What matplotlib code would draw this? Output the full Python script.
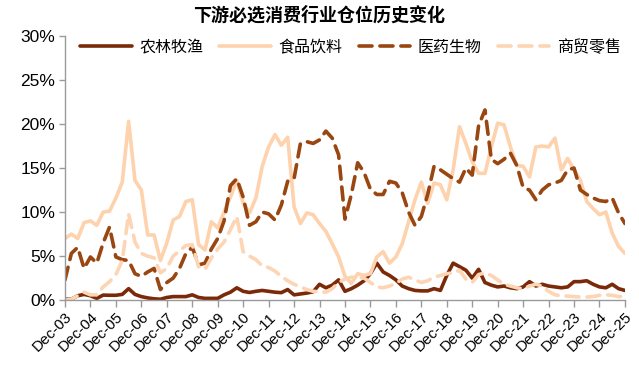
import matplotlib
matplotlib.use("Agg")
import matplotlib.pyplot as plt

plt.rcParams['font.family'] = ['Liberation Sans', 'Noto Sans CJK SC']

# quarterly positions, Dec-03 .. Dec-25 (values in %)
year_labels = ["Dec-%02d" % y for y in range(3, 26)]

agri = [0.1, 0.1, 0.5, 0.65, 0.5, 0.2, 0.57, 0.55, 0.55, 0.65, 1.3, 0.65, 0.4, 0.25, 0.15, 0.1,
        0.3, 0.4, 0.4, 0.4, 0.6, 0.3, 0.2, 0.2, 0.2, 0.6, 0.9, 1.4, 1.0, 0.87,
        1.0, 1.1, 1.0, 0.9, 0.85, 1.2, 0.6, 0.7, 0.8, 0.95, 1.8, 1.4, 1.7, 2.3, 1.0, 1.3, 1.7, 2.2, 3.0, 4.2,
        3.2, 2.8, 2.3, 1.6, 1.3, 1.1, 1.05, 1.05, 1.3, 1.1, 2.8, 4.2, 3.8, 3.4, 2.5, 3.5,
        2.0, 1.7, 1.5, 1.6, 1.4, 1.3, 1.5, 2.1, 1.6, 1.8, 1.6, 1.5, 1.4, 1.5, 2.1, 2.1, 2.2, 1.8, 1.5, 1.4,
        1.8, 1.3, 1.1]

food = [7.0, 7.5, 7.0, 8.8, 9.0, 8.5, 10.0, 10.1, 11.6, 13.4, 20.3, 13.6, 12.5, 7.4, 7.4, 4.5,
        6.5, 9.1, 9.5, 11.2, 11.4, 6.3, 5.7, 8.9, 8.2, 10.0, 11.7, 13.6, 11.0, 9.9, 11.6, 15.2, 17.4, 18.8,
        17.6, 18.5,
        10.6, 8.7, 9.9, 9.7, 8.7, 7.8, 6.4, 4.9, 2.7, 1.9, 3.0, 2.8, 3.0, 4.9,
        5.5, 4.2, 4.9, 6.4, 8.9, 11.4, 13.4, 11.0, 13.3, 13.1, 11.4, 14.8, 19.7, 17.8, 15.7, 14.4,
        14.4, 17.4, 20.1, 19.9, 17.4, 15.3, 15.2, 14.0, 17.4, 17.5, 17.4, 18.4, 14.8, 16.1, 14.8, 13.6,
        11.2, 10.4, 9.7, 10.0, 7.6, 6.1, 5.3]

med = [2.3, 5.3, 6.0, 3.6, 4.9, 4.2, 6.5, 8.3, 4.9, 4.6, 4.5, 3.0, 2.7, 3.2, 3.6, 1.2,
       2.0, 2.5, 3.6, 5.3, 6.0, 4.0, 4.2, 5.8, 7.0, 9.0, 13.0, 13.8, 11.7, 8.5, 8.9, 10.0, 9.8, 9.1,
       10.8, 13.5,
       13.8, 17.8, 18.0, 17.8, 18.2, 19.2, 18.4, 16.5, 9.2, 12.0, 15.6, 14.5, 12.6, 12.0,
       12.0, 13.5, 13.3, 12.2, 10.0, 8.5, 9.5, 12.0, 15.2, 14.8, 14.3, 13.8, 13.4, 15.0, 14.2, 19.8,
       21.6, 16.0, 15.5, 16.0, 16.7, 15.3, 12.8, 12.5, 11.4, 12.5, 13.1, 13.3, 13.6, 14.8, 15.0, 12.5,
       12.0, 11.6, 11.3, 11.2, 11.6, 9.9, 8.7]

retail = [0.0, 0.1, 0.5, 0.9, 0.6, 0.6, 1.5, 2.1, 2.9, 4.5, 9.8, 6.6, 5.3, 5.0, 4.8, 3.1,
          3.6, 5.0, 5.6, 6.2, 6.3, 3.8, 3.5, 4.8, 5.8, 6.6, 8.0, 9.5, 5.5, 5.0,
          4.6, 3.9, 3.7, 3.3, 2.7, 2.2, 1.8, 1.5, 1.2, 1.0, 0.95, 0.9, 1.3, 2.0, 2.4, 2.6, 2.6, 2.5, 2.0, 1.5,
          1.4, 1.6, 1.9, 2.4, 2.6, 2.3, 2.0, 2.2, 2.6, 2.8, 3.0, 3.1, 3.4, 2.4, 2.0, 2.9,
          3.1, 2.8, 2.3, 1.8, 1.6, 1.4, 1.3, 1.6, 1.8, 1.6, 1.0, 0.6, 0.5, 0.45, 0.4, 0.35, 0.35, 0.4,
          0.55, 0.6, 0.55, 0.4, 0.4]

y_ticks = [0, 5, 10, 15, 20, 25, 30]

x = list(range(len(food)))

fig = plt.figure(figsize=(6.39, 3.66), dpi=100)
ax = fig.add_axes([0.1017, 0.18, 0.8763, 0.7216])

dash = (0, (3.6, 2.2))
ax.plot(x, agri, color="#7a2a08", lw=2.6, label="农林牧渔", solid_capstyle="round")
ax.plot(x, food, color="#fdd2ad", lw=2.6, label="食品饮料", solid_capstyle="round")
ax.plot(x, med, color="#994611", lw=2.6, ls=dash, label="医药生物", dash_capstyle="round")
ax.plot(x, retail, color="#fdd5b4", lw=2.6, ls=dash, label="商贸零售", dash_capstyle="round")

ax.set_xlim(0, len(food) - 1)
ax.set_ylim(0, 30)
ax.set_yticks(y_ticks)
ax.set_yticklabels(["%d%%" % v for v in y_ticks], fontsize=12.5)
ax.set_xticks(range(0, len(food), 4))
ax.set_xticklabels(year_labels, rotation=45, ha="right", rotation_mode="anchor", fontsize=11)

for side in ("top", "right"):
    ax.spines[side].set_visible(False)
for side in ("left", "bottom"):
    ax.spines[side].set_color("#9a9a9a")
    ax.spines[side].set_linewidth(1.0)
ax.tick_params(axis="both", colors="#9a9a9a", labelcolor="black", width=1.0)
ax.tick_params(axis="y", length=4, pad=3)
ax.tick_params(axis="x", length=5, pad=2)

ax.legend(loc="center", bbox_to_anchor=(0.51, 0.958), ncol=4, frameon=False,
          fontsize=11.5, handlelength=3.2, columnspacing=1.0, handletextpad=0.5,
          borderaxespad=0)

fig.text(0.5, 0.957, "下游必选消费行业仓位历史变化", ha="center", va="center",
         fontsize=13, fontweight="bold")

fig.savefig("out.png", dpi=100)
